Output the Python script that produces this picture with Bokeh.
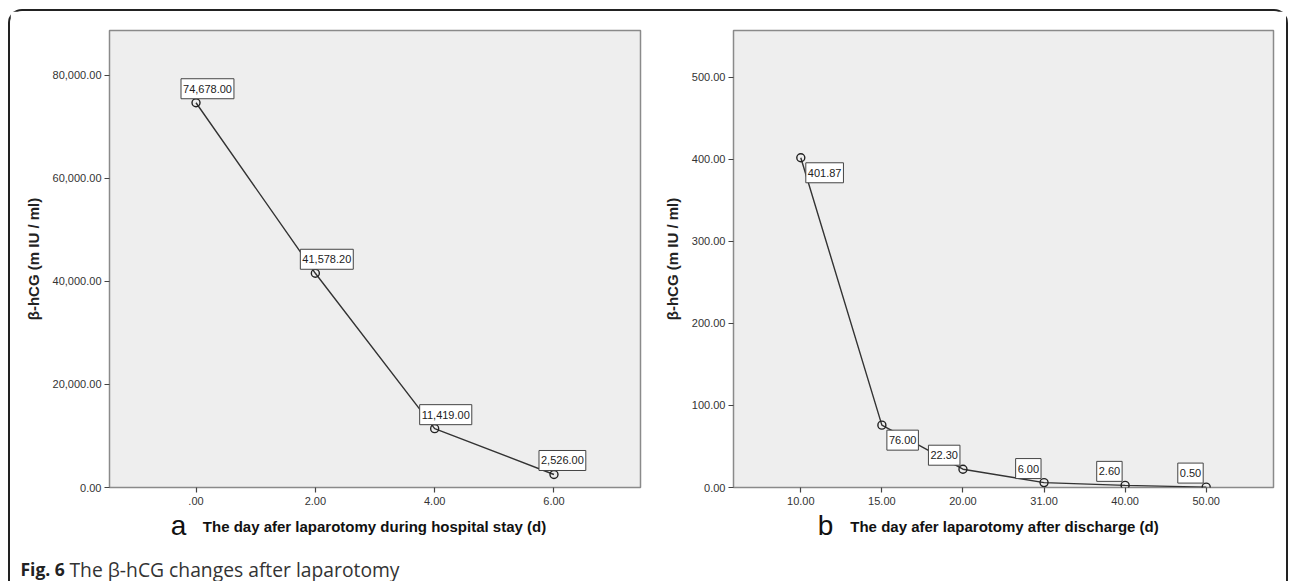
from bokeh.plotting import figure
from bokeh.models import (Range1d, FactorRange, FixedTicker, NumeralTickFormatter,
                          Label, Row, Column, ColumnDataSource)
from bokeh.embed import file_html
from bokeh.resources import INLINE

# ---- data ----
days_a = [0, 2, 4, 6]
hcg_a = [74678.00, 41578.20, 11419.00, 2526.00]
days_b = [10, 15, 20, 31, 40, 50]
hcg_b = [401.87, 76.00, 22.30, 6.00, 2.60, 0.50]
ticks_a_y = [0, 20000, 40000, 60000, 80000]
ticks_b_y = [0, 100, 200, 300, 400, 500]
xlabel_a = "The day afer laparotomy during hospital stay (d)"
xlabel_b = "The day afer laparotomy after discharge (d)"
ylabel = "β-hCG (m IU / ml)"
caption_bold = "Fig. 6"
caption_rest = "The β-hCG changes after laparotomy"

TICK_FONT = "Liberation Sans, Arial, sans-serif"
H1 = 498   # chart row height
H2 = 39    # x-title strip height
H3 = 33    # caption height


def style(p):
    p.background_fill_color = "#eeeeee"
    p.border_fill_color = "white"
    p.outline_line_color = "#8a8a8a"
    p.outline_line_width = 1.5
    p.grid.visible = False
    for ax in (p.xaxis[0], p.yaxis[0]):
        ax.axis_line_color = None
        ax.major_tick_out = 5
        ax.major_tick_in = 0
        ax.minor_tick_line_color = None
        ax.major_tick_line_color = "#444444"
        ax.major_tick_line_width = 1.2
        ax.major_label_text_font = TICK_FONT
        ax.major_label_text_font_size = "11px"
        ax.major_label_text_color = "#333333"
        ax.major_label_standoff = 3
    p.xaxis.major_label_standoff = 4
    p.yaxis.axis_label = ylabel
    p.yaxis.axis_label_text_font = TICK_FONT
    p.yaxis.axis_label_text_font_style = "bold"
    p.yaxis.axis_label_text_font_size = "15px"
    p.yaxis.axis_label_text_color = "#222222"
    p.yaxis.axis_label_standoff = 8


def box_label(p, x, y, txt, anchor, xo, yo):
    p.add_layout(Label(x=x, y=y, text=txt, anchor=anchor, x_offset=xo, y_offset=yo,
                       text_font=TICK_FONT, text_font_size="11px", text_color="#222222",
                       background_fill_color="white", border_line_color="#444444",
                       border_line_width=1, padding=(2, 6)))


def strip(width, height):
    s = figure(width=width, height=height, output_backend="svg", toolbar_location=None,
               x_range=Range1d(0, width), y_range=Range1d(0, height),
               x_axis_type=None, y_axis_type=None,
               min_border=0, min_border_left=0, min_border_right=0,
               min_border_top=0, min_border_bottom=0)
    s.outline_line_color = None
    s.background_fill_color = "white"
    s.border_fill_color = "white"
    s.grid.visible = False
    return s


# ---- panel a ----
p1 = figure(width=650, height=H1, output_backend="svg", toolbar_location=None,
            x_range=Range1d(-1.45, 7.45), y_range=Range1d(0, 88700),
            min_border_left=99, min_border_right=20, min_border_top=19,
            min_border_bottom=H1 - 19 - 457)
style(p1)
p1.xaxis.ticker = FixedTicker(ticks=days_a)
p1.xaxis.formatter = NumeralTickFormatter(format="0.00")
p1.xaxis.major_label_overrides = {0: ".00"}
p1.yaxis.ticker = FixedTicker(ticks=ticks_a_y)
p1.yaxis.formatter = NumeralTickFormatter(format="0,0.00")
src_a = ColumnDataSource(dict(x=days_a, y=hcg_a))
p1.line("x", "y", source=src_a, line_color="#333333", line_width=1.4)
p1.scatter("x", "y", source=src_a, size=8, fill_color=None, line_color="#222222", line_width=1.4)
for xv, yv in zip(days_a, hcg_a):
    box_label(p1, xv, yv, f"{yv:,.2f}", "bottom_left", -15, 4)

# ---- panel b ----
cats_b = [f"{d:.2f}" for d in days_b]
p2 = figure(width=626, height=H1, output_backend="svg", toolbar_location=None,
            x_range=FactorRange(factors=cats_b, range_padding=0.33,
                                range_padding_units="absolute"),
            y_range=Range1d(0, 557),
            min_border_left=73, min_border_right=13, min_border_top=17,
            min_border_bottom=H1 - 17 - 460)
style(p2)
p2.yaxis.ticker = FixedTicker(ticks=ticks_b_y)
p2.yaxis.formatter = NumeralTickFormatter(format="0.00")
src_b = ColumnDataSource(dict(x=cats_b, y=hcg_b))
p2.line("x", "y", source=src_b, line_color="#333333", line_width=1.4)
p2.scatter("x", "y", source=src_b, size=8, fill_color=None, line_color="#222222", line_width=1.4)
for i, yv in enumerate(hcg_b):
    xs = i + 0.5  # synthetic coordinate of factor i on the FactorRange
    if i < 2:
        box_label(p2, xs, yv, f"{yv:.2f}", "top_left", 5, -5)
    else:
        box_label(p2, xs, yv, f"{yv:.2f}", "bottom_right", -3, 4)

# ---- x-axis titles with panel letters ----
sa = strip(650, H2)
sa.add_layout(Label(x=168, y=23, text="a", text_align="center", text_baseline="alphabetic",
                    text_font=TICK_FONT, text_font_size="28px", text_color="#111111"))
sa.add_layout(Label(x=364, y=22, text=xlabel_a, text_align="center", text_baseline="alphabetic",
                    text_font=TICK_FONT, text_font_style="bold", text_font_size="15px",
                    text_color="#111111"))
sb = strip(626, H2)
sb.add_layout(Label(x=165, y=23, text="b", text_align="center", text_baseline="alphabetic",
                    text_font=TICK_FONT, text_font_size="28px", text_color="#111111"))
sb.add_layout(Label(x=344, y=22, text=xlabel_b, text_align="center", text_baseline="alphabetic",
                    text_font=TICK_FONT, text_font_style="bold", text_font_size="15px",
                    text_color="#111111"))

# ---- caption ----
cap = strip(1276, H3)
cap.add_layout(Label(x=10, y=12.5, text=caption_bold, text_align="left", text_baseline="alphabetic",
                     text_font="Open Sans", text_font_style="bold", text_font_size="17.5px",
                     text_color="#222222"))
cap.add_layout(Label(x=59, y=12.5, text=caption_rest, text_align="left", text_baseline="alphabetic",
                     text_font="Open Sans", text_font_size="19.3px", text_color="#333333"))

layout = Column(children=[Row(children=[p1, p2]), Row(children=[sa, sb]), cap],
                styles={"margin-left": "8px", "margin-top": "9px",
                        "border-top": "2px solid #222", "border-left": "2px solid #222",
                        "border-right": "2px solid #222",
                        "border-radius": "14px 14px 0 0"})

open("out.html", "w").write(file_html(layout, INLINE))
